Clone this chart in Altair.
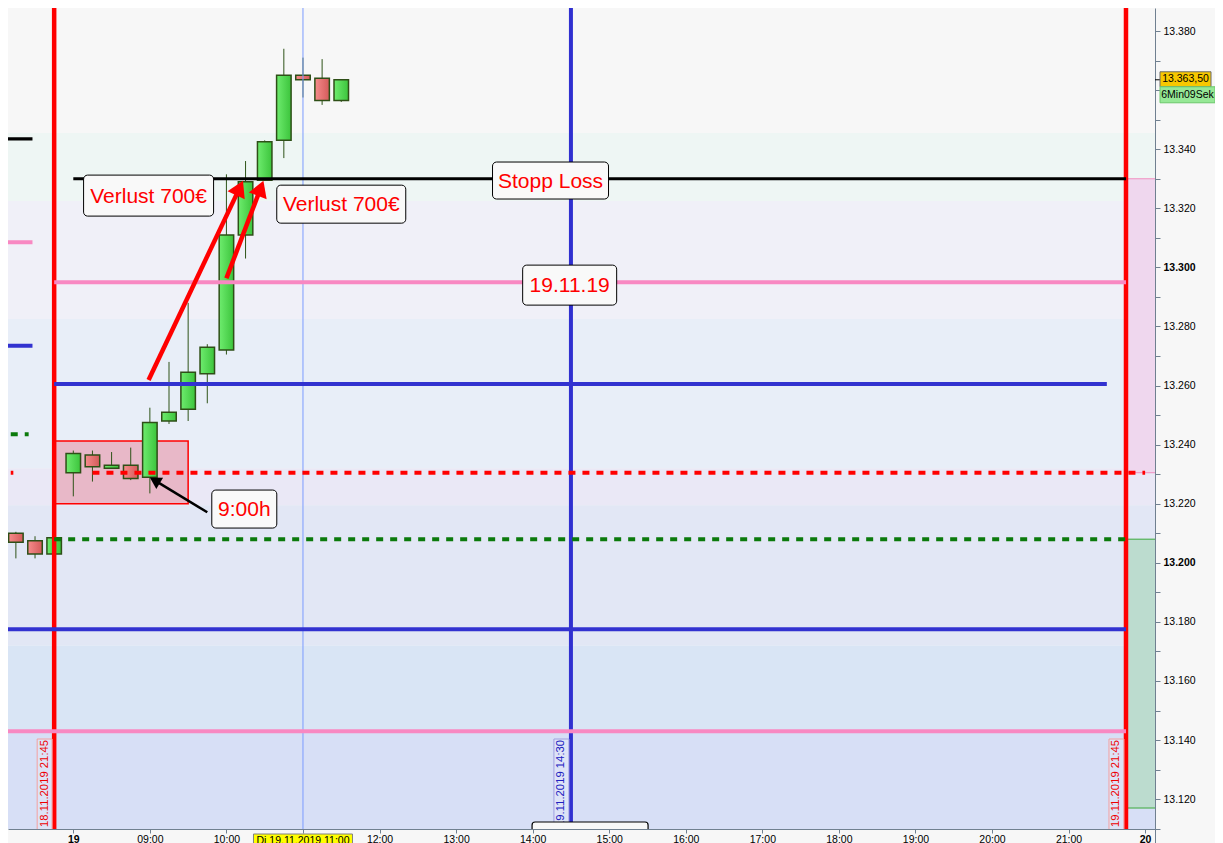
import math
import altair as alt
import pandas as pd

# ---------------- data ----------------
candle_time = ["18.11 21:00", "18.11 21:15", "18.11 21:30", "18.11 21:45",
               "19.11 08:00", "19.11 08:15", "19.11 08:30", "19.11 08:45",
               "19.11 09:00", "19.11 09:15", "19.11 09:30", "19.11 09:45",
               "19.11 10:00", "19.11 10:15", "19.11 10:30", "19.11 10:45",
               "19.11 11:00", "19.11 11:15", "19.11 11:30"]
candle_open = [13209, 13210, 13207.5, 13203, 13230.5, 13236.5, 13232, 13233,
               13229, 13248, 13252, 13264, 13272, 13311, 13329.5, 13343,
               13365, 13364, 13356.5]
candle_high = [13210.5, 13210.5, 13209, 13208.5, 13238, 13238, 13237.5, 13239,
               13252.5, 13268, 13288, 13274, 13331.5, 13336, 13343, 13374,
               13371, 13370.5, 13363.5]
candle_low = [13208.5, 13201.5, 13201.5, 13203, 13222.5, 13227.5, 13232, 13228,
              13223.5, 13247, 13248, 13254, 13270.5, 13303, 13329.5, 13337,
              13357.5, 13355, 13356]
candle_close = [13210, 13207, 13203, 13208.5, 13237, 13232.5, 13233, 13228.5,
                13247.5, 13251, 13264.5, 13273, 13311, 13329, 13342.5, 13365,
                13363.5, 13356.5, 13363.5]

# horizontal levels
level_price = [13330, 13295, 13260.5, 13230.5, 13208, 13177.5, 13143,
               13343.5, 13308.5, 13273.5, 13243.5, 13230.5]
level_start = ["19.11 08:00", "18.11 21:45", "18.11 21:45", "19.11 08:15", "18.11 21:45",
               "18.11 21:00", "18.11 21:00", "18.11 21:00", "18.11 21:00", "18.11 21:00",
               "18.11 21:00", "18.11 21:00"]
level_end = ["19.11 21:45", "19.11 21:45", "19.11 21:30", "20.11 08:00", "19.11 21:45",
             "19.11 21:45", "19.11 21:45", "18.11 21:28", "18.11 21:28", "18.11 21:28",
             "18.11 21:25", "18.11 21:13"]
level_kind = ["stop", "pink", "blue", "reddash", "greendash", "blue", "pink",
              "stop", "pink", "blue", "greendash", "reddash"]

# vertical markers
vline_time = ["18.11 21:45", "19.11 14:30", "19.11 21:45", "19.11 11:00"]
vline_kind = ["red", "blue", "red", "cursor"]

stamp_text = ["18.11.2019 21:45", "19.11.2019 14:30", "19.11.2019 21:45"]
stamp_time = ["18.11 21:45", "19.11 14:30", "19.11 21:45"]
stamp_kind = ["red", "blue", "red"]

# zones
range_box_time = ["18.11 21:45", "19.11 09:30"]
range_box_price = [13241.2, 13220.0]
zone_top = [13330, 13208]
zone_bottom = [13230.5, 13117]
zone_kind = ["pink", "green"]
zone_start = "19.11 21:45"

# background bands (price levels)
band_high = [13400, 13345.5, 13322.5, 13282.5, 13232, 13219.5, 13172, 13143]
band_low = [13345.5, 13322.5, 13282.5, 13232, 13219.5, 13172, 13143, 13100]

# annotations
label_text = ["Verlust 700€", "Verlust 700€", "Stopp Loss", "19.11.19", "9:00h"]
label_time = ["19.11 08:59", "19.11 11:30", "19.11 14:14", "19.11 14:29", "19.11 10:14"]
label_price = [13324.3, 13321.4, 13329.4, 13294.0, 13218.2]

arrow_from_time = ["19.11 08:59", "19.11 10:00", "19.11 09:45"]
arrow_from_price = [13261.9, 13296.3, 13217.1]
arrow_to_time = ["19.11 10:13", "19.11 10:29", "19.11 09:00"]
arrow_to_price = [13329.3, 13329.3, 13228.9]
arrow_kind = ["red", "red", "black"]

axis_hours = list(range(8, 23))
price_ticks = list(range(13110, 13390, 10))
last_price = candle_close[-1]
timer_text = "6Min09Sek"
cursor_text = "Di 19.11.2019 11:00"
empty_box_time = "19.11 14:45"

# ---------------- layout / styles ----------------
W, H = 1147, 821
PAD_R, PAD_B = 60, 14
XMIN, XMAX = 7.147, 22.129
YMIN, YMAX = 13109.9, 13387.8
PXH = W / (XMAX - XMIN)
PXP = H / (YMAX - YMIN)
FONT = "Liberation Sans"
AXIS_C = "#708090"
WICK = "#2e5318"
BODY_STROKE = "#2e4f17"

BAND_COLORS = ["#f7f7f7", "#eef6f4", "#f0f0f8", "#e8eef8", "#eae8f6",
               "#e2e7f5", "#d9e5f5", "#d7dff6"]
LINE_STYLE = {"stop": ("#000000", 3.2, None), "pink": ("#f888c2", 4, None),
              "blue": ("#3232d0", 4, None), "reddash": ("#ff0000", 4, [7, 7]),
              "greendash": ("#0b7a0b", 4, [7, 7])}
VLINE_STYLE = {"red": ("#ff0000", 4.5), "blue": ("#3030d0", 4), "cursor": ("#7b9cff", 1)}
STAMP_STYLE = {"red": ("#ee0000", "#f4a0a0"), "blue": ("#2020c0", "#a0a0e0")}
ZONE_STYLE = {"pink": ("#efd7ee", "#f090c0"), "green": ("#bcdccf", "#3aa83a")}
ARROW_STYLE = {"red": ("#ff0000", 4.5, 16, 19), "black": ("#000000", 2.5, 11.5, 13)}
LABEL_BOX = [(130, 41), (129, 38), (116, 37), (94, 40), (65, 38)]


def sh(stamp):
    day, clock = stamp.split()
    hh, mm = clock.split(":")
    d = int(day.split(".")[0])
    return int(hh) + int(mm) / 60 + (d - 19) * 14


XS = alt.Scale(domain=[XMIN, XMAX], nice=False, zero=False, padding=0)
YS = alt.Scale(domain=[YMIN, YMAX], nice=False, zero=False, padding=0)

X_AXIS = alt.Axis(
    orient="bottom", values=axis_hours, title=None, grid=False,
    labelExpr="datum.value == 8 ? '19' : datum.value == 22 ? '20' : datum.value == 11 ? '' : "
              "(datum.value < 10 ? '0' : '') + datum.value + ':00'",
    labelFontWeight={"condition": {"test": "datum.value == 8 || datum.value == 22",
                                   "value": "bold"}, "value": "normal"},
    labelFont=FONT, labelFontSize=10.5, labelColor="#000000", labelPadding=1.5,
    labelOverlap=False, labelFlush=False, tickSize=4, tickColor=AXIS_C,
    domainColor=AXIS_C, domainWidth=1, tickWidth=1)
# the 13.360 label sits under the price/timer tags, so it is left blank
Y_AXIS = alt.Axis(
    orient="right", values=price_ticks, title=None, grid=False,
    labelExpr="datum.value % 20 == 0 && datum.value != 13360 ? "
              "format(datum.value / 1000, '.3f') : ''",
    labelFontWeight={"condition": {"test": "datum.value == 13300 || datum.value == 13200",
                                   "value": "bold"}, "value": "normal"},
    labelFont=FONT, labelFontSize=10.5, labelColor="#000000", labelPadding=3,
    labelOverlap=False, labelFlush=False, tickSize=5, tickColor=AXIS_C,
    domainColor=AXIS_C, domainWidth=1, tickWidth=1)


def xq(f):
    return alt.X(f, type="quantitative", scale=XS, axis=X_AXIS)


def yq(f):
    return alt.Y(f, type="quantitative", scale=YS, axis=Y_AXIS)


layers = []

cdf = pd.DataFrame({"t": [sh(s) for s in candle_time], "o": candle_open, "h": candle_high,
                    "l": candle_low, "c": candle_close})

# background bands
band_df = pd.DataFrame({"hi": band_high, "lo": band_low, "col": BAND_COLORS})
layers.append(alt.Chart(band_df).mark_rect(clip=True).encode(
    x=alt.value(0), x2=alt.value(W), y=yq("hi:Q"), y2=alt.Y2("lo:Q"),
    color=alt.Color("col:N", scale=None)))

# right-side zones
zdf = pd.DataFrame({"top": zone_top, "bot": zone_bottom, "k": zone_kind, "t": sh(zone_start)})
for k, (fillc, edge) in ZONE_STYLE.items():
    sub = alt.Chart(zdf).transform_filter(alt.datum.k == k)
    layers.append(sub.mark_rect(fill=fillc, clip=True, xOffset=2).encode(
        x=xq("t:Q"), x2=alt.value(W), y=yq("top:Q"), y2=alt.Y2("bot:Q")))
    for f in ["top", "bot"]:
        layers.append(sub.mark_rule(color=edge, strokeWidth=1, clip=True, xOffset=2).encode(
            x=xq("t:Q"), x2=alt.value(W), y=yq(f + ":Q")))

# pink range box
rb = pd.DataFrame({"a": [sh(range_box_time[0])], "b": [sh(range_box_time[1])],
                   "p1": [range_box_price[0]], "p2": [range_box_price[1]]})
layers.append(alt.Chart(rb).mark_rect(fill="#e8b8c8", stroke="#ff0000", strokeWidth=1.5,
                                      clip=True).encode(
    x=xq("a:Q"), x2=alt.X2("b:Q"), y=yq("p1:Q"), y2=alt.Y2("p2:Q")))

# candles
layers.append(alt.Chart(cdf).mark_rule(color=WICK, strokeWidth=1, clip=True).encode(
    x=xq("t:Q"), y=yq("l:Q"), y2=alt.Y2("h:Q")))

green_grad = alt.Gradient(gradient="linear", x1=0, x2=1, y1=0, y2=0,
                          stops=[alt.GradientStop(color="#6eec6e", offset=0),
                                 alt.GradientStop(color="#3cc43c", offset=1)])
red_grad = alt.Gradient(gradient="linear", x1=0, x2=1, y1=0, y2=0,
                        stops=[alt.GradientStop(color="#f68c8c", offset=0),
                               alt.GradientStop(color="#d45a5a", offset=1)])
layers.append(alt.Chart(cdf).transform_filter("datum.c >= datum.o").mark_bar(
    fill=green_grad, stroke=BODY_STROKE, strokeWidth=1.5, width=14.5, clip=True).encode(
    x=xq("t:Q"), y=yq("o:Q"), y2=alt.Y2("c:Q")))
layers.append(alt.Chart(cdf).transform_filter("datum.c < datum.o").mark_bar(
    fill=red_grad, stroke=BODY_STROKE, strokeWidth=1.5, width=14.5, clip=True).encode(
    x=xq("t:Q"), y=yq("o:Q"), y2=alt.Y2("c:Q")))

# vertical lines
vdf = pd.DataFrame({"t": [sh(s) for s in vline_time], "k": vline_kind})
for k, (col, w) in VLINE_STYLE.items():
    layers.append(alt.Chart(vdf).transform_filter(alt.datum.k == k).mark_rule(
        color=col, strokeWidth=w, clip=True).encode(
        x=xq("t:Q"), y=alt.value(0), y2=alt.value(H)))

# horizontal levels
ldf = pd.DataFrame({"p": level_price, "a": [sh(s) for s in level_start],
                    "b": [sh(s) for s in level_end], "k": level_kind})
for k, (col, w, dash) in LINE_STYLE.items():
    kw = dict(color=col, strokeWidth=w, clip=True)
    if dash:
        kw["strokeDash"] = dash
    layers.append(alt.Chart(ldf).transform_filter(alt.datum.k == k).mark_rule(**kw).encode(
        x=xq("a:Q"), x2=alt.X2("b:Q"), y=yq("p:Q")))

# date stamps next to vertical lines
sdf = pd.DataFrame({"t": [sh(s) for s in stamp_time], "txt": stamp_text, "k": stamp_kind})
for k, (tc, bc) in STAMP_STYLE.items():
    sub = alt.Chart(sdf).transform_filter(alt.datum.k == k)
    layers.append(sub.mark_rect(fill="#e4e8f8", fillOpacity=0.5, stroke=bc, strokeWidth=1,
                                xOffset=-17, x2Offset=-2, clip=True).encode(
        x=xq("t:Q"), x2=alt.X2("t:Q"), y=alt.value(H - 90), y2=alt.value(H + 2)))
    layers.append(sub.mark_text(angle=270, align="left", baseline="middle", font=FONT,
                                fontSize=11.3, color=tc, xOffset=-9.5, clip=True).encode(
        x=xq("t:Q"), y=alt.value(H - 2), text="txt:N"))

# small empty box at the bottom
eb = pd.DataFrame({"t": [sh(empty_box_time)]})
layers.append(alt.Chart(eb).mark_rect(fill="#f8f8f8", stroke="#000000", strokeWidth=1.2,
                                      cornerRadius=3, xOffset=-58, x2Offset=58, clip=True).encode(
    x=xq("t:Q"), x2=alt.X2("t:Q"), y=alt.value(H - 7), y2=alt.value(H + 10)))

# arrows
for i, kind in enumerate(arrow_kind):
    col, sw, hl, hw = ARROW_STYLE[kind]
    t0, p0 = sh(arrow_from_time[i]), arrow_from_price[i]
    t1, p1 = sh(arrow_to_time[i]), arrow_to_price[i]
    x0, y0 = (t0 - XMIN) * PXH, (YMAX - p0) * PXP
    x1, y1 = (t1 - XMIN) * PXH, (YMAX - p1) * PXP
    dx, dy = x1 - x0, y1 - y0
    ln = math.hypot(dx, dy)
    ux, uy = dx / ln, dy / ln
    bx, by = x1 - (hl - 1) * ux, y1 - (hl - 1) * uy
    tb, pb = XMIN + bx / PXH, YMAX - by / PXP
    ang = math.degrees(math.atan2(ux, -uy)) % 360
    adf = pd.DataFrame({"t0": [t0], "p0": [p0], "tb": [tb], "pb": [pb], "t1": [t1], "p1": [p1]})
    layers.append(alt.Chart(adf).mark_rule(color=col, strokeWidth=sw).encode(
        x=xq("t0:Q"), x2=alt.X2("tb:Q"), y=yq("p0:Q"), y2=alt.Y2("pb:Q")))
    path = "M0,0L{a:.3f},{b:.3f}L{c:.3f},{b:.3f}Z".format(a=hw / 20, b=hl / 10, c=-hw / 20)
    layers.append(alt.Chart(adf).mark_point(shape=path, size=400, filled=True, fill=col,
                                            opacity=1, strokeWidth=0, angle=ang).encode(
        x=xq("t1:Q"), y=yq("p1:Q")))

# annotation boxes
for i, txt in enumerate(label_text):
    bw, bh = LABEL_BOX[i]
    ad = pd.DataFrame({"t": [sh(label_time[i])], "p": [label_price[i]], "txt": [txt]})
    layers.append(alt.Chart(ad).mark_rect(fill="#f9f9f9", stroke="#000000", strokeWidth=1,
                                          cornerRadius=4, xOffset=-bw / 2, x2Offset=bw / 2,
                                          yOffset=-bh / 2, y2Offset=bh / 2).encode(
        x=xq("t:Q"), x2=alt.X2("t:Q"), y=yq("p:Q"), y2=alt.Y2("p:Q")))
    layers.append(alt.Chart(ad).mark_text(font=FONT, fontSize=21, color="#ff0000",
                                          align="center", baseline="middle", yOffset=1).encode(
        x=xq("t:Q"), y=yq("p:Q"), text="txt:N"))

# price tag on the right axis
price_str = f"{last_price:,.2f}".replace(",", "X").replace(".", ",").replace("X", ".")
pt = pd.DataFrame({"p": [last_price], "txt": [price_str], "timer": [timer_text]})
layers.append(alt.Chart(pt).mark_rule(color="#000000", strokeWidth=1).encode(
    x=alt.value(W), x2=alt.value(W + 5), y=yq("p:Q")))
layers.append(alt.Chart(pt).mark_rect(fill="#f8c800", stroke="#6a6a6a", strokeWidth=1,
                                      yOffset=-8, y2Offset=7).encode(
    x=alt.value(W + 5), x2=alt.value(W + 56), y=yq("p:Q"), y2=alt.Y2("p:Q")))
layers.append(alt.Chart(pt).mark_text(font=FONT, fontSize=10.5, color="#000000",
                                      align="center", baseline="middle", yOffset=-0.5).encode(
    x=alt.value(W + 30.5), y=yq("p:Q"), text="txt:N"))
layers.append(alt.Chart(pt).mark_rect(fill="#96e896", stroke="#6cc86c", strokeWidth=1,
                                      yOffset=7, y2Offset=23).encode(
    x=alt.value(W + 5), x2=alt.value(W + 60), y=yq("p:Q"), y2=alt.Y2("p:Q")))
layers.append(alt.Chart(pt).mark_text(font=FONT, fontSize=10.5, color="#000000",
                                      align="center", baseline="middle", yOffset=15.5).encode(
    x=alt.value(W + 32.5), y=yq("p:Q"), text="timer:N"))

# cursor time label on the time axis
ct = pd.DataFrame({"t": [sh(vline_time[3])], "txt": [cursor_text]})
layers.append(alt.Chart(ct).mark_rect(fill="#ffff00", stroke="#808080", strokeWidth=1,
                                      xOffset=-49.5, x2Offset=49.5).encode(
    x=xq("t:Q"), x2=alt.X2("t:Q"), y=alt.value(H + 5), y2=alt.value(H + 22)))
layers.append(alt.Chart(ct).mark_text(font=FONT, fontSize=10.5, color="#000000",
                                      align="center", baseline="top").encode(
    x=xq("t:Q"), y=alt.value(H + 6.5), text="txt:N"))

# right axis line continues below the plot
fr = pd.DataFrame({"d": [0]})
layers.append(alt.Chart(fr).mark_rule(color=AXIS_C, strokeWidth=1).encode(
    x=alt.value(W + 0.5), y=alt.value(H), y2=alt.value(H + PAD_B)))

chart = alt.layer(*layers).properties(
    width=W, height=H,
    autosize=alt.AutoSizeParams(type="none"),
    padding={"left": 0, "top": 0, "right": PAD_R, "bottom": PAD_B},
    background="#f7f7f7",
).configure_view(strokeWidth=0)

chart.save("out.html", embed_options={"renderer": "svg", "actions": False})
